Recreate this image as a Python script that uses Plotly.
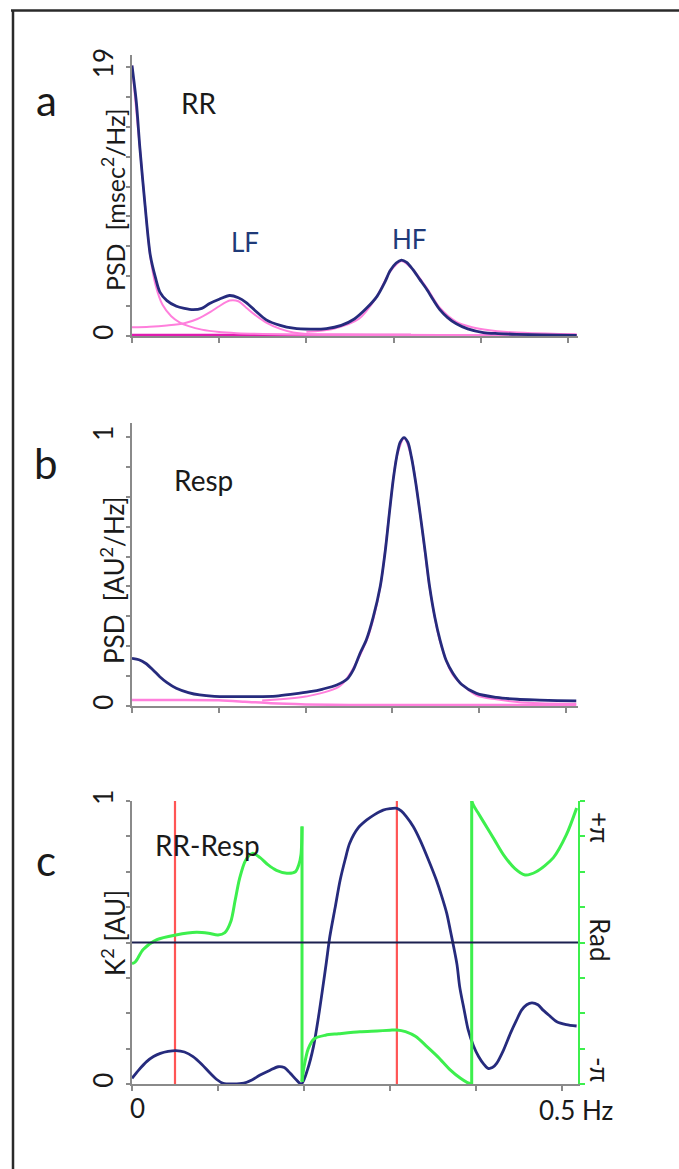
import math
import plotly.graph_objects as go

W, H = 679, 1169

# ---------------- Panel a : RR PSD ----------------
rr_total_f = [0, 0.005, 0.009, 0.015, 0.021, 0.027, 0.032, 0.04, 0.051, 0.06, 0.07, 0.08, 0.089, 0.1,
              0.112, 0.122, 0.131, 0.142, 0.154, 0.17, 0.185, 0.205, 0.223, 0.24, 0.255, 0.268, 0.281,
              0.29, 0.296, 0.303, 0.309, 0.315, 0.322, 0.33, 0.338, 0.346, 0.353, 0.362, 0.372, 0.385,
              0.403, 0.42, 0.441, 0.47, 0.51]
rr_total_v = [19.1, 16.5, 13.3, 9.2, 5.7, 4.1, 3.1, 2.5, 2.1, 1.95, 1.86, 1.95, 2.3, 2.6,
              2.86, 2.7, 2.36, 1.75, 1.14, 0.75, 0.55, 0.48, 0.52, 0.75, 1.2, 1.9, 2.8,
              3.8, 4.6, 5.15, 5.36, 5.2, 4.7, 4.0, 3.3, 2.5, 1.86, 1.3, 0.86, 0.5,
              0.24, 0.17, 0.12, 0.08, 0.05]
rr_vlf_f = [0, 0.009, 0.015, 0.021, 0.027, 0.035, 0.045, 0.055, 0.065, 0.08, 0.1, 0.12, 0.15, 0.2, 0.3, 0.4, 0.51]
rr_vlf_v = [19.1, 13.3, 9.2, 5.6, 3.6, 2.2, 1.4, 0.95, 0.7, 0.45, 0.28, 0.2, 0.14, 0.09, 0.06, 0.05, 0.04]
rr_lf_f = [0, 0.02, 0.04, 0.06, 0.075, 0.09, 0.1, 0.112, 0.122, 0.131, 0.142, 0.154, 0.17, 0.185, 0.2, 0.25, 0.3, 0.4, 0.51]
rr_lf_v = [0.62, 0.66, 0.75, 0.9, 1.2, 1.7, 2.1, 2.5, 2.45, 2.0, 1.45, 0.95, 0.5, 0.25, 0.15, 0.1, 0.08, 0.06, 0.05]
rr_hf_f = [0.2, 0.23, 0.26, 0.28, 0.296, 0.309, 0.322, 0.338, 0.353, 0.372, 0.39, 0.41, 0.43, 0.46, 0.49, 0.51]
rr_hf_v = [0.3, 0.5, 1.2, 2.7, 4.55, 5.3, 4.7, 3.4, 2.0, 1.0, 0.62, 0.4, 0.28, 0.2, 0.15, 0.12]
rr_base_f = [0, 0.32]
rr_base_v = [0.06, 0.06]

# ---------------- Panel b : Resp PSD ----------------
resp_total_f = [0, 0.008, 0.016, 0.024, 0.032, 0.04, 0.051, 0.065, 0.078, 0.095, 0.116, 0.14, 0.166, 0.185,
                0.205, 0.22, 0.236, 0.248, 0.255, 0.263, 0.27, 0.278, 0.286, 0.292, 0.297, 0.301, 0.305,
                0.309, 0.3135, 0.318, 0.322, 0.327, 0.332, 0.338, 0.343, 0.349, 0.355, 0.362, 0.37, 0.38,
                0.397, 0.42, 0.444, 0.47, 0.49, 0.512]
resp_total_v = [0.177, 0.172, 0.158, 0.135, 0.109, 0.088, 0.066, 0.05, 0.041, 0.036, 0.035, 0.035, 0.037, 0.044,
                0.053, 0.063, 0.078, 0.1, 0.134, 0.197, 0.245, 0.33, 0.443, 0.58, 0.728, 0.84, 0.926,
                0.98, 0.998, 0.98, 0.926, 0.83, 0.716, 0.57, 0.443, 0.33, 0.245, 0.17, 0.121, 0.08,
                0.047, 0.032, 0.025, 0.022, 0.02, 0.019]
resp_hf_f = [0.15, 0.2, 0.24, 0.27, 0.286, 0.297, 0.305, 0.3135, 0.322, 0.332, 0.343, 0.355, 0.37, 0.397, 0.42, 0.444, 0.47, 0.512]
resp_hf_v = [0.02, 0.035, 0.075, 0.24, 0.44, 0.73, 0.925, 0.995, 0.925, 0.715, 0.44, 0.24, 0.115, 0.04, 0.025, 0.015, 0.01, 0.008]
resp_low_f = [0, 0.05, 0.1, 0.13, 0.16, 0.2, 0.25, 0.35, 0.512]
resp_low_v = [0.022, 0.022, 0.021, 0.016, 0.01, 0.006, 0.004, 0.004, 0.004]

# ---------------- Panel c : RR-Resp coherence & phase ----------------
coh_f = [0, 0.008, 0.017, 0.025, 0.033, 0.042, 0.051, 0.061, 0.071, 0.081, 0.091, 0.099, 0.106, 0.118, 0.13,
         0.14, 0.149, 0.16, 0.17, 0.177, 0.184, 0.191, 0.197, 0.204, 0.211, 0.217, 0.222, 0.226, 0.23, 0.236,
         0.242, 0.248, 0.253, 0.263, 0.273, 0.282, 0.292, 0.3, 0.308, 0.313, 0.319, 0.327, 0.335, 0.345,
         0.354, 0.36, 0.366, 0.37, 0.374, 0.378, 0.381, 0.386, 0.391, 0.397, 0.403, 0.409, 0.414, 0.419,
         0.424, 0.432, 0.44, 0.447, 0.453, 0.459, 0.465, 0.472, 0.478, 0.486, 0.494, 0.505, 0.517]
coh_v = [0.02, 0.05, 0.079, 0.097, 0.108, 0.115, 0.118, 0.113, 0.097, 0.07, 0.038, 0.015, 0.002, 0.0, 0.003,
         0.015, 0.032, 0.048, 0.061, 0.058, 0.038, 0.015, 0.0, 0.05, 0.132, 0.24, 0.344, 0.43, 0.52, 0.62,
         0.72, 0.795, 0.85, 0.905, 0.933, 0.952, 0.968, 0.973, 0.974, 0.965, 0.945, 0.91, 0.862, 0.79,
         0.72, 0.665, 0.603, 0.545, 0.485, 0.42, 0.344, 0.265, 0.19, 0.135, 0.097, 0.07, 0.055, 0.058,
         0.073, 0.12, 0.179, 0.225, 0.261, 0.28, 0.287, 0.28, 0.261, 0.24, 0.22, 0.21, 0.205]

# phase in units of pi, split at the two wrap-around jumps
phase1_f = [0, 0.004, 0.013, 0.029, 0.051, 0.075, 0.089, 0.1, 0.108, 0.115, 0.12, 0.125, 0.132, 0.14, 0.149,
            0.158, 0.168, 0.18, 0.19, 0.194, 0.1965, 0.1977]
phase1_p = [-0.15, -0.136, -0.05, 0.02, 0.053, 0.072, 0.065, 0.053, 0.07, 0.15, 0.3, 0.45, 0.58, 0.63, 0.6,
            0.55, 0.51, 0.49, 0.5, 0.55, 0.62, 0.82]
phase2_f = [0.1977, 0.2, 0.205, 0.212, 0.225, 0.24, 0.265, 0.285, 0.3, 0.308, 0.318, 0.33, 0.343, 0.356, 0.37,
            0.382, 0.39, 0.395]
phase2_p = [-0.984, -0.88, -0.75, -0.68, -0.655, -0.645, -0.63, -0.625, -0.62, -0.618, -0.63, -0.665, -0.736,
            -0.81, -0.9, -0.96, -0.99, -1.0]
phase3_f = [0.395, 0.397, 0.402, 0.41, 0.422, 0.432, 0.445, 0.457, 0.47, 0.49, 0.505, 0.517]
phase3_p = [1.0, 0.97, 0.92, 0.84, 0.72, 0.62, 0.524, 0.477, 0.5, 0.6, 0.76, 0.95]

marker_freqs = [0.05, 0.308]

NAVY = "#262b7d"
PINK = "#ff7fdc"
MAGENTA = "#e01cb0"
GREEN = "#3def4d"
RED = "#ff5555"
AXIS = "#8a8a8a"
TXT = "#1a1a1a"
FONT = "Lato"


def px(x):
    return x / W


def py(y):
    return 1 - y / H


fig = go.Figure()

# panel a
for f, v, c, w in [(rr_base_f, rr_base_v, MAGENTA, 3), (rr_vlf_f, rr_vlf_v, PINK, 2),
                   (rr_lf_f, rr_lf_v, PINK, 2), (rr_hf_f, rr_hf_v, PINK, 2),
                   (rr_total_f, rr_total_v, NAVY, 2.8)]:
    fig.add_trace(go.Scatter(x=f, y=v, mode="lines", line=dict(color=c, width=w, shape="spline", smoothing=0.8),
                             xaxis="x", yaxis="y", showlegend=False, hoverinfo="skip"))
# panel b
for f, v, c, w in [(resp_low_f, resp_low_v, PINK, 2.5), (resp_hf_f, resp_hf_v, PINK, 2),
                   (resp_total_f, resp_total_v, NAVY, 2.8)]:
    fig.add_trace(go.Scatter(x=f, y=v, mode="lines", line=dict(color=c, width=w, shape="spline", smoothing=0.8),
                             xaxis="x2", yaxis="y2", showlegend=False, hoverinfo="skip"))
# panel c
fig.add_trace(go.Scatter(x=coh_f, y=coh_v, mode="lines", line=dict(color=NAVY, width=2.8, shape="spline", smoothing=0.8),
                         xaxis="x3", yaxis="y3", showlegend=False, hoverinfo="skip"))
segs = [(phase1_f, phase1_p, "spline"), ([phase1_f[-1], phase2_f[0]], [phase1_p[-1], phase2_p[0]], "linear"),
        (phase2_f, phase2_p, "spline"), ([phase2_f[-1], phase3_f[0]], [phase2_p[-1], phase3_p[0]], "linear"),
        (phase3_f, phase3_p, "spline")]
for f, p, shp in segs:
    fig.add_trace(go.Scatter(x=f, y=[q * math.pi for q in p], mode="lines",
                             line=dict(color=GREEN, width=3, shape=shp, smoothing=0.8),
                             xaxis="x3", yaxis="y4", showlegend=False, hoverinfo="skip"))

dom_x = [px(132), px(578)]
dom_a = [py(336), py(55)]
dom_b = [py(706), py(423)]
dom_c = [py(1084), py(801)]

xcommon = dict(showgrid=False, zeroline=False, showline=True, linecolor=AXIS, linewidth=2,
               ticks="outside", ticklen=5, tickcolor=AXIS, tickwidth=1.5, dtick=0.1, tick0=0,
               showticklabels=False, domain=dom_x, automargin=False)


def yax(dom, top, n, toplabel, rng):
    return dict(domain=dom, range=rng, showgrid=False, zeroline=False, showline=True, linecolor=AXIS,
                linewidth=2, ticks="outside", ticklen=4, tickcolor=AXIS, tickwidth=1.5,
                tickvals=[0, top], ticktext=["0", toplabel], tickangle=-90,
                tickfont=dict(family=FONT, size=26, color=TXT),
                minor=dict(ticks="outside", ticklen=4, tickcolor=AXIS, tickwidth=1.5, tick0=0, dtick=top / n,
                           showgrid=False),
                ticklabelstandoff=3, automargin=False)


fig.update_layout(
    width=W, height=H, margin=dict(l=0, r=0, t=0, b=0, pad=0, autoexpand=False),
    paper_bgcolor="white", plot_bgcolor="white",
    xaxis=dict(xcommon, anchor="y", range=[0, 0.5115]),
    yaxis=dict(yax(dom_a, 19, 9, "19", [0, 19.84]), anchor="x"),
    xaxis2=dict(xcommon, anchor="y2", range=[0, 0.514]),
    yaxis2=dict(yax(dom_b, 1, 9, "1", [0, 1.052]), anchor="x2"),
    xaxis3=dict(xcommon, anchor="y3", range=[0, 0.5186]),
    yaxis3=dict(yax(dom_c, 1, 8, "1", [0, 1.0]), anchor="x3"),
    yaxis4=dict(domain=dom_c, range=[-math.pi, math.pi], overlaying="y3", side="right", anchor="x3",
                showgrid=False, zeroline=False, showline=True, linecolor=GREEN, linewidth=2,
                ticks="outside", ticklen=5, tickcolor=GREEN, tickwidth=1.5, automargin=False,
                tickvals=[-math.pi + 2 * math.pi * i / 8 for i in range(9)], showticklabels=False),
)

shapes = []
# zero-phase line
shapes.append(dict(type="line", xref="x3 domain", yref="y3", x0=0, x1=1, y0=0.5, y1=0.5,
                   line=dict(color="#1c2050", width=2)))
for fm in marker_freqs:
    shapes.append(dict(type="line", xref="x3", yref="y3 domain", x0=fm, x1=fm, y0=0, y1=1,
                       line=dict(color=RED, width=2.2), layer="below"))
# figure frame (top and left edges)
shapes.append(dict(type="line", xref="paper", yref="paper", x0=px(11), x1=1, y0=py(10.5), y1=py(10.5),
                   line=dict(color="#2a2a2a", width=2.5)))
shapes.append(dict(type="line", xref="paper", yref="paper", x0=px(13), x1=px(13), y0=py(10.5), y1=0,
                   line=dict(color="#2a2a2a", width=2.5)))
fig.update_layout(shapes=shapes)

ann = []


def text(s, x, y, size, color=TXT, angle=0, xanchor="center"):
    ann.append(dict(text=s, x=px(x), y=py(y), xref="paper", yref="paper", showarrow=False,
                    font=dict(family=FONT, size=size, color=color), textangle=angle,
                    xanchor=xanchor, yanchor="middle"))


text("a", 46, 100, 42)
text("b", 46, 463, 42)
text("c", 46, 860, 42)
text("RR", 199, 103, 28)
text("LF", 245, 242, 26, color="#1f3a78")
text("HF", 409, 239, 26, color="#1f3a78")
text("Resp", 203, 480, 28)
text("RR-Resp", 207, 845, 28)
text("PSD  [msec<sup>2</sup>/Hz]", 113, 200, 25, angle=-90)
text("PSD  [AU<sup>2</sup>/Hz]", 113, 580, 26, angle=-90)
text("K<sup>2</sup> [AU]", 113, 933, 26, angle=-90)
text("+π", 600, 827, 26, angle=90)
text("Rad", 600, 940, 26, angle=90)
text("-π", 600, 1070, 26, angle=90)
text("0", 137, 1108, 26)
text("0.5 Hz", 537, 1110, 26, xanchor="left")
fig.update_layout(annotations=ann)

fig.write_html("out.html", config={"displayModeBar": False},
               post_script="document.body.style.margin='0px';document.body.style.overflow='hidden';"
                           "document.documentElement.style.overflow='hidden';")
